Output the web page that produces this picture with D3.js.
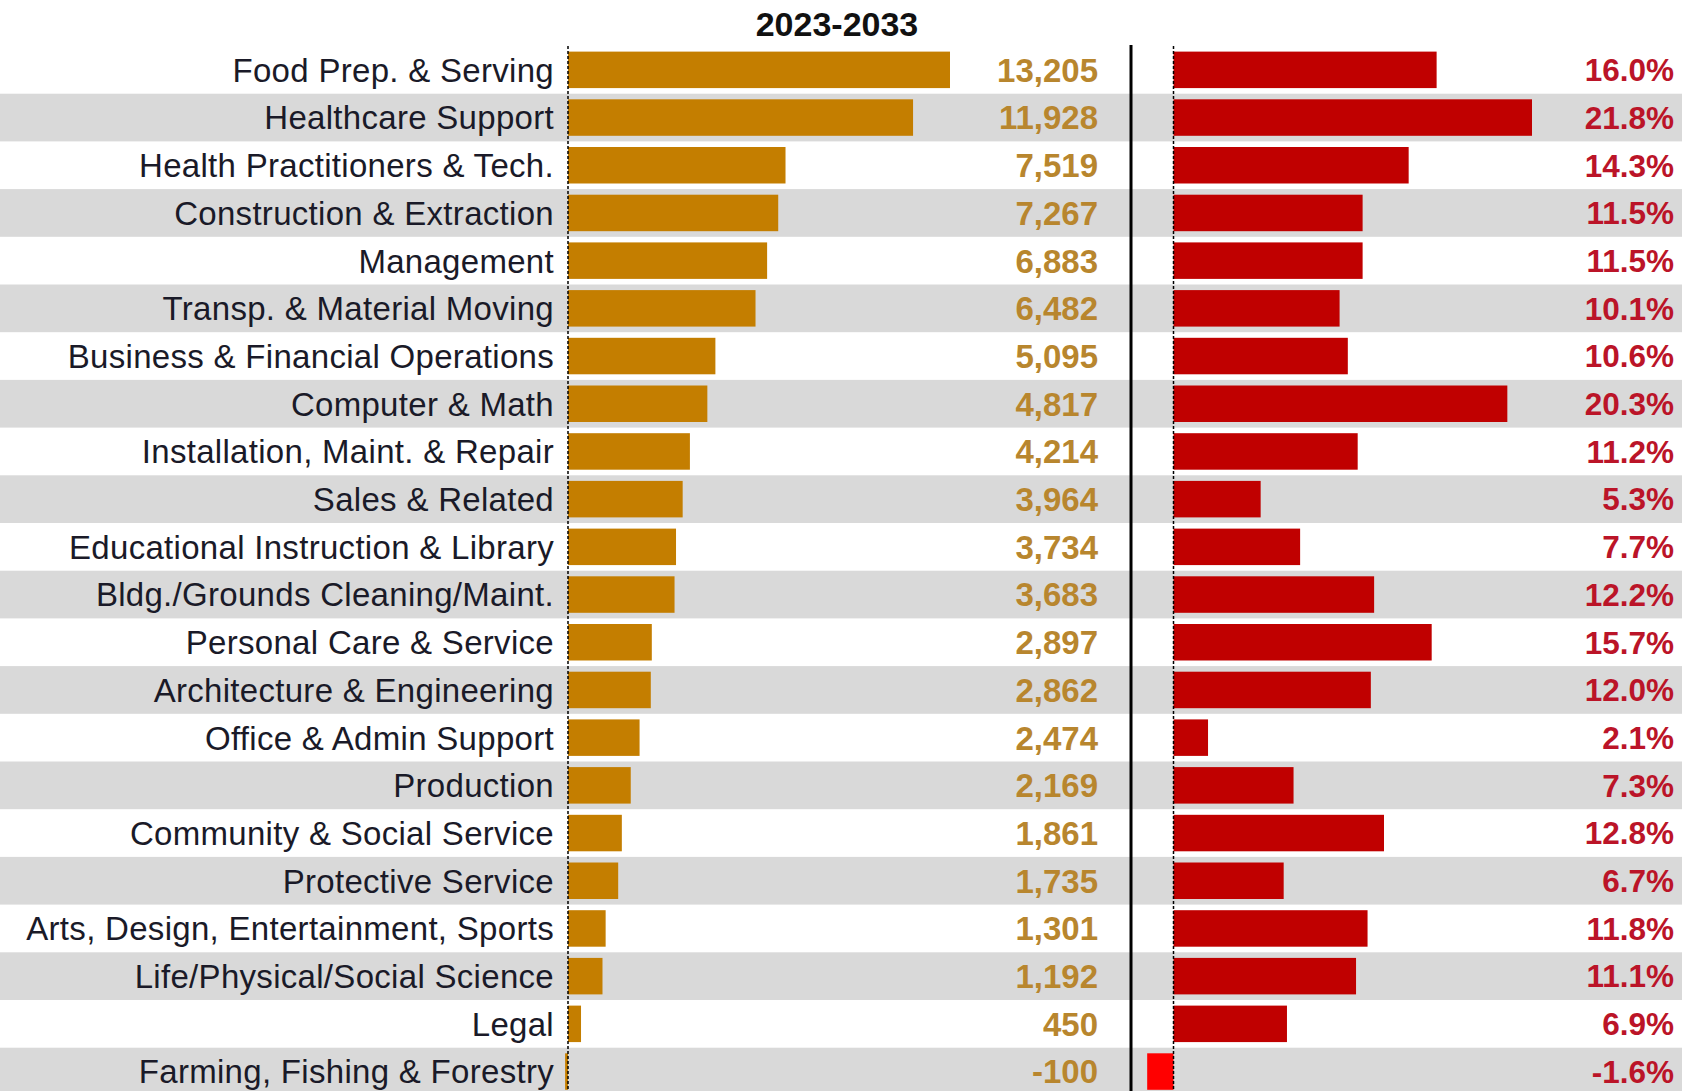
<!DOCTYPE html>
<html>
<head>
<meta charset="utf-8">
<script src="https://cdn.jsdelivr.net/npm/d3@7"></script>
<style>
  html, body { margin: 0; padding: 0; background: #fff; }
  svg { display: block; }
</style>
</head>
<body>
<svg id="chart" width="1682" height="1091"></svg>
<script>
const categories = [
  "Food Prep. & Serving", "Healthcare Support", "Health Practitioners & Tech.",
  "Construction & Extraction", "Management", "Transp. & Material Moving",
  "Business & Financial Operations", "Computer & Math", "Installation, Maint. & Repair",
  "Sales & Related", "Educational Instruction & Library", "Bldg./Grounds Cleaning/Maint.",
  "Personal Care & Service", "Architecture & Engineering", "Office & Admin Support",
  "Production", "Community & Social Service", "Protective Service",
  "Arts, Design, Entertainment, Sports", "Life/Physical/Social Science", "Legal",
  "Farming, Fishing & Forestry"
];
const jobChange = [13205, 11928, 7519, 7267, 6883, 6482, 5095, 4817, 4214, 3964, 3734,
  3683, 2897, 2862, 2474, 2169, 1861, 1735, 1301, 1192, 450, -100];
const pctChange = [16.0, 21.8, 14.3, 11.5, 11.5, 10.1, 10.6, 20.3, 11.2, 5.3, 7.7,
  12.2, 15.7, 12.0, 2.1, 7.3, 12.8, 6.7, 11.8, 11.1, 6.9, -1.6];
const title = "2023-2033";

const rows = categories.map((c, i) => ({ cat: c, n: jobChange[i], p: pctChange[i], i }));

const svg = d3.select("#chart");
const W = 1682, H = 1091;
const font = "'Liberation Sans', Arial, sans-serif";
const loc = d3.formatLocale({ decimal: ".", thousands: ",", grouping: [3], currency: ["$", ""], minus: "-" });
const fmtN = loc.format(",");
const fmtP = loc.format(".1f");

const y = d3.scaleBand().domain(categories).range([46, 46 + 22 * 47.7]).padding(0);
const barH = y.bandwidth() * 0.765;

const xL = d3.scaleLinear().domain([0, 13205]).range([568, 950]);
const xR = d3.scaleLinear().domain([0, 21.8]).range([1173.5, 1532]);

// row bands
svg.append("g").selectAll("rect").data(rows.filter(d => d.i % 2 === 1)).join("rect")
  .attr("x", 0).attr("width", W)
  .attr("y", d => y(d.cat)).attr("height", y.bandwidth())
  .attr("fill", "#d9d9d9");

// title
svg.append("text").attr("x", 837).attr("y", 24).attr("dy", "0.35em")
  .attr("text-anchor", "middle").attr("font-family", font)
  .attr("font-weight", "bold").attr("font-size", 34).attr("fill", "#111")
  .text(title);

// left bars
svg.append("g").selectAll("rect").data(rows).join("rect")
  .attr("x", d => Math.min(xL(0), xL(d.n)))
  .attr("width", d => Math.abs(xL(d.n) - xL(0)))
  .attr("y", d => y(d.cat) + (y.bandwidth() - barH) / 2)
  .attr("height", barH)
  .attr("fill", "#c47e00");

// right bars
svg.append("g").selectAll("rect").data(rows).join("rect")
  .attr("x", d => Math.min(xR(0), xR(d.p)))
  .attr("width", d => Math.abs(xR(d.p) - xR(0)))
  .attr("y", d => y(d.cat) + (y.bandwidth() - barH) / 2)
  .attr("height", barH)
  .attr("fill", d => d.p < 0 ? "#ff0000" : "#c00000");

// dotted zero lines
[xL(0), xR(0)].forEach(x => {
  svg.append("line").attr("x1", x).attr("x2", x).attr("y1", 46).attr("y2", H)
    .attr("stroke", "#000").attr("stroke-width", 1.5).attr("stroke-dasharray", "3,2");
});

// solid separator
svg.append("line").attr("x1", 1131).attr("x2", 1131).attr("y1", 45).attr("y2", H)
  .attr("stroke", "#000").attr("stroke-width", 3);

// category labels
svg.append("g").selectAll("text").data(rows).join("text")
  .attr("x", 554).attr("y", d => y(d.cat) + y.bandwidth() / 2).attr("dy", "0.36em")
  .attr("text-anchor", "end").attr("font-family", font).attr("font-size", 33)
  .attr("letter-spacing", 0.3)
  .attr("fill", "#1a1a28").text(d => d.cat);

// value labels
svg.append("g").selectAll("text").data(rows).join("text")
  .attr("x", 1098).attr("y", d => y(d.cat) + y.bandwidth() / 2).attr("dy", "0.36em")
  .attr("text-anchor", "end").attr("font-family", font).attr("font-size", 33)
  .attr("font-weight", "bold").attr("fill", "#b8862e").text(d => fmtN(d.n));

svg.append("g").selectAll("text").data(rows).join("text")
  .attr("x", 1674).attr("y", d => y(d.cat) + y.bandwidth() / 2).attr("dy", "0.36em")
  .attr("text-anchor", "end").attr("font-family", font).attr("font-size", 31.5)
  .attr("font-weight", "bold").attr("fill", "#bb1428").text(d => fmtP(d.p) + "%");
</script>
</body>
</html>
